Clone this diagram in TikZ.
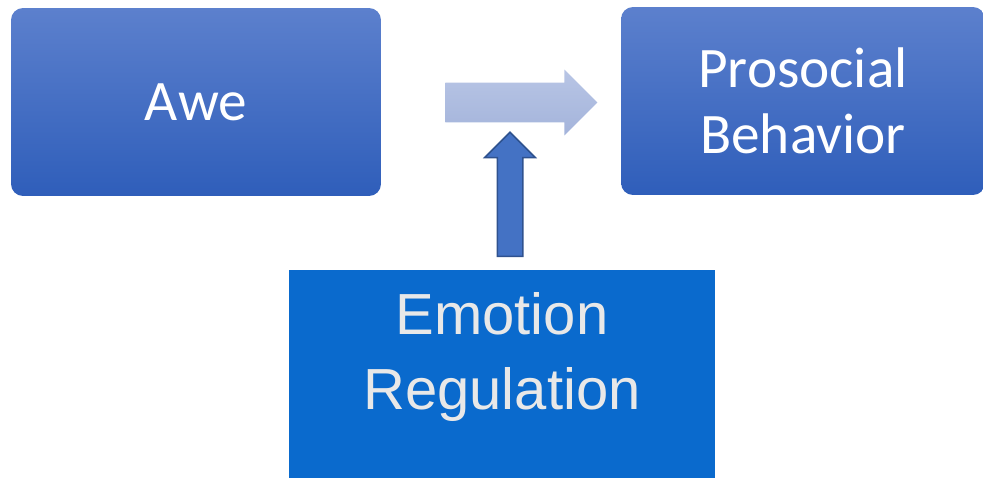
\documentclass[tikz,border=0pt]{standalone}
\usepackage{fontspec}
\newfontfamily\boxfont{Carlito}
\newfontfamily\regfont{Liberation Sans}
\usepackage{tikz}
\usetikzlibrary{shapes.arrows}
\usetikzlibrary{positioning}
\definecolor{boxtop}{RGB}{92,128,205}
\definecolor{boxbot}{RGB}{47,94,186}
\definecolor{regblue}{RGB}{10,106,205}
\definecolor{regtext}{RGB}{232,232,232}
\definecolor{linktop}{RGB}{184,197,229}
\definecolor{linkbot}{RGB}{164,180,219}
\definecolor{modfill}{RGB}{68,114,196}
\definecolor{moddraw}{RGB}{47,82,143}

\begin{document}
\begin{tikzpicture}[x=0.02cm,y=-0.02cm]%
        \useasboundingbox (0,0) rectangle (983,477); %%
        \clip (0,0) rectangle (983,477); %%
        \begin{scope}[rounded corners=0.24cm,inner sep=0]
        \tikzstyle{every node}=[rectangle,top color=boxtop,bottom color=boxbot,text=white,align=center,
            font=\boxfont\fontsize{32.6}{37.6}\selectfont,minimum height=3.76cm] %%
        \node[minimum width=7.4cm] (awe) at (196,102)  {Awe}; %%
        \node[minimum width=7.28cm] (pro) at (803,101)  {Prosocial\\Behavior}; %%
        \end{scope}%
        \node[rectangle,fill=regblue,minimum width=8.52cm,minimum height=5cm,inner sep=0] (reg) at (502,395)  {}; %%
        \node[text=regtext,align=center,font=\regfont\fontsize{33}{42.7}\selectfont,inner sep=0] (regtxt) at (502,357)  {Emotion\\Regulation}; %%
        \begin{scope}[shape=single arrow,single arrow tip angle=90]
        \node[top color=linktop,bottom color=linkbot,inner sep=0.39cm,minimum height=3.04cm,minimum width=1.3cm,
            single arrow head extend=0.26cm,anchor=tail] (link) at (445,102.5)  {}; %%
        \node[fill=modfill,draw=moddraw,line width=0.03cm,inner sep=0.24cm,shape border rotate=90,minimum height=2.48cm,
            minimum width=0.98cm,single arrow head extend=0.25cm,anchor=tail] (mod) at (510,257)  {}; %%
        \end{scope}
        \end{tikzpicture}
\end{document}
